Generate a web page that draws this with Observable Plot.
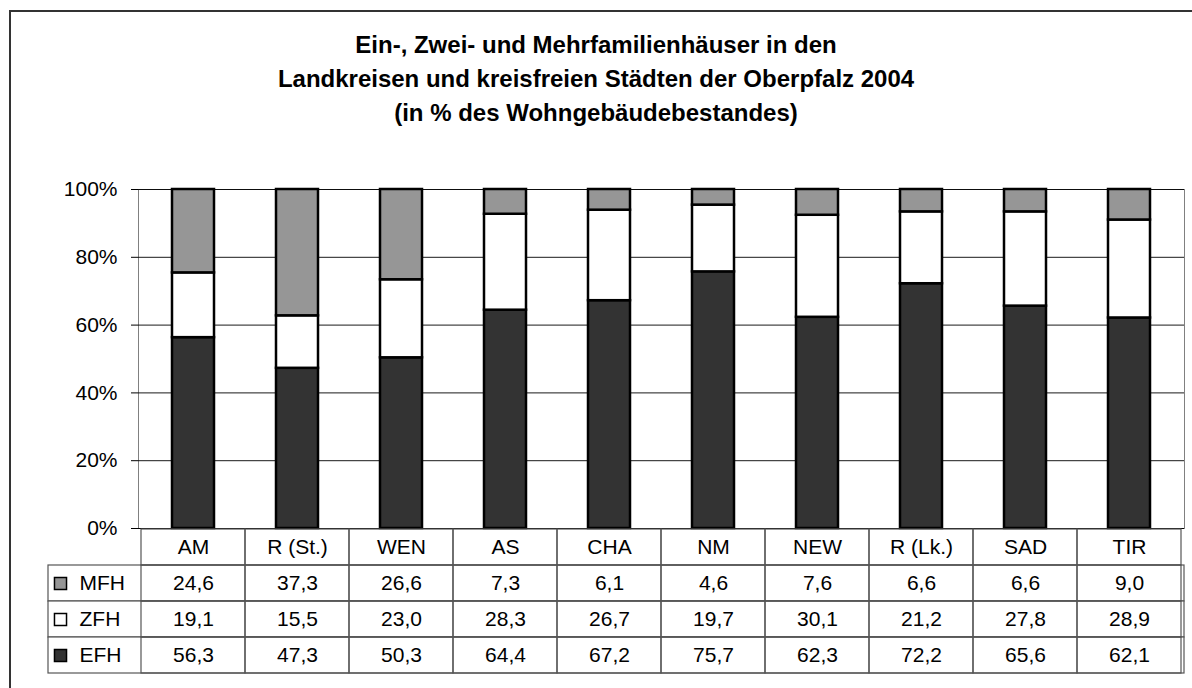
<!DOCTYPE html>
<html>
<head>
<meta charset="utf-8">
<script src="https://cdn.jsdelivr.net/npm/d3@7"></script>
<script src="https://cdn.jsdelivr.net/npm/@observablehq/plot@0.6"></script>
<style>
  html, body { margin: 0; padding: 0; background: #fff; }
  #wrap { position: relative; width: 1192px; height: 688px; overflow: hidden; background: #fff;
          font-family: "Liberation Sans", Arial, sans-serif; }
  #border { position: absolute; left: 9px; top: 10px; width: 1200px; height: 700px;
            border-left: 2px solid #333; border-top: 2px solid #333; box-sizing: border-box; }
  #title { position: absolute; left: 0; top: 28px; width: 1192px; text-align: center;
           font-weight: bold; font-size: 24px; line-height: 34px; color: #000; }
  #chart { position: absolute; left: 0; top: 170px; }
  #table { position: absolute; left: 0; top: 528px; }
</style>
</head>
<body>
<div id="wrap">
  <div id="border"></div>
  <div id="title">Ein-, Zwei- und Mehrfamilienhäuser in den<br>Landkreisen und kreisfreien Städten der Oberpfalz 2004<br>(in % des Wohngebäudebestandes)</div>
  <div id="chart"></div>
  <div id="table"></div>
</div>
<script>
const categories = ["AM", "R (St.)", "WEN", "AS", "CHA", "NM", "NEW", "R (Lk.)", "SAD", "TIR"];
const series = ["MFH", "ZFH", "EFH"];
const mfh = [24.6, 37.3, 26.6, 7.3, 6.1, 4.6, 7.6, 6.6, 6.6, 9.0];
const zfh = [19.1, 15.5, 23.0, 28.3, 26.7, 19.7, 30.1, 21.2, 27.8, 28.9];
const efh = [56.3, 47.3, 50.3, 64.4, 67.2, 75.7, 62.3, 72.2, 65.6, 62.1];
const seriesColors = ["#969696", "#ffffff", "#333333"];
const yTicks = [0, 0.2, 0.4, 0.6, 0.8, 1];
const headerRow = "Kreis";

const valuesBySeries = {MFH: mfh, ZFH: zfh, EFH: efh};
// stacking order: EFH at bottom, then ZFH, then MFH
const stackOrder = ["EFH", "ZFH", "MFH"];
const data = [];
for (const s of stackOrder) {
  categories.forEach((c, i) => data.push({cat: c, series: s, value: valuesBySeries[s][i]}));
}

const font = '"Liberation Sans", Arial, sans-serif';
const de = d3.formatLocale({decimal: ",", thousands: ".", grouping: [3], currency: ["", " €"]});
const fmt = de.format(".1f");

const chart = Plot.plot({
  width: 1192,
  height: 372,
  marginTop: 19,
  marginBottom: 14,
  marginLeft: 138,
  marginRight: 8,
  style: {fontFamily: font, fontSize: "21px", color: "#000", background: "transparent"},
  x: {domain: categories, paddingInner: 0.595, paddingOuter: 0.2975, axis: null},
  y: {domain: [0, 1], ticks: 5, tickFormat: d3.format(".0%"), tickSize: 7, tickPadding: 14, line: true, label: null},
  color: {domain: series, range: seriesColors},
  marks: [
    Plot.frame({stroke: "#808080"}),
    Plot.ruleY(yTicks, {stroke: "#000", strokeOpacity: 0.9}),
    Plot.barY(data, {x: "cat", y: "value", z: "series", fill: "series", offset: "normalize",
                     stroke: "#000", strokeWidth: 2.5}),
    Plot.ruleY([0], {stroke: "#000"})
  ]
});
document.getElementById("chart").appendChild(chart);

const rows = [headerRow, ...series];
const gridCells = [];
for (const r of rows) for (const c of categories) gridCells.push({cat: c, row: r});
const tableVals = data.map(d => ({...d, label: fmt(d.value)}));

const table = Plot.plot({
  width: 1192,
  height: 150,
  marginTop: 0,
  marginBottom: 3.5,
  marginLeft: 48,
  marginRight: 8,
  style: {fontFamily: font, fontSize: "21px", color: "#000", background: "transparent"},
  x: {type: "band", domain: categories, range: [138, 1184], padding: 0, axis: null},
  y: {type: "band", domain: rows, padding: 0, axis: null},
  color: {domain: series, range: seriesColors},
  marks: [
    Plot.cell(series, {y: d => d, stroke: "#555", fill: "white", strokeWidth: 1.2}),
    Plot.cell(gridCells, {x: "cat", y: "row", stroke: "#555", fill: "none", strokeWidth: 1.2}),
    Plot.text(categories, {x: d => d, y: d => headerRow, text: d => d, fill: "#000"}),
    Plot.text(tableVals, {x: "cat", y: "series", text: "label", fill: "#000"}),
    Plot.dot(series, {y: d => d, frameAnchor: "left", dx: 12, symbol: "square", r: 6.8,
                      fill: d => d, stroke: "#000", strokeWidth: 1.5}),
    Plot.text(series, {y: d => d, text: d => d, frameAnchor: "left", dx: 31, textAnchor: "start", fill: "#000"})
  ]
});
document.getElementById("table").appendChild(table);
</script>
</body>
</html>
